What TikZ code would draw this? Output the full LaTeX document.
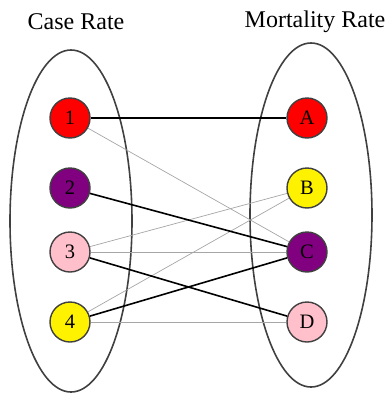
\documentclass[tikz,border=0pt]{standalone}
\usepackage{fontspec}
\setmainfont{Liberation Serif}
\definecolor{bord}{HTML}{404040}
\definecolor{pinkc}{HTML}{FFC0CB}
\definecolor{purp}{HTML}{800080}
\tikzset{
  vert/.style={circle, draw=bord, line width=1.4pt, minimum size=40pt, inner sep=0pt, font=\fontsize{20.5}{20.5}\selectfont},
  strong/.style={black, line width=1.6pt},
  weak/.style={black!35, line width=0.7pt},
  group/.style={draw=bord, line width=1.6pt},
  title/.style={font=\fontsize{24}{24}\selectfont}
}
\begin{document}
\begin{tikzpicture}[x=1pt,y=-1pt]
\useasboundingbox (0,0) rectangle (385,394);
\draw[group] (71,221) ellipse [x radius=61, y radius=171];
\draw[group] (311,215) ellipse [x radius=61, y radius=172];
\node[title] (t1) at (76,22) {Case Rate};
\node[title] (t2) at (315,22) {Mortality Rate};
\node[vert, fill=red] (n1) at (70,118) {1};
\node[vert, fill=purp] (n2) at (70,188) {2};
\node[vert, fill=pinkc] (n3) at (70,252) {3};
\node[vert, fill=yellow] (n4) at (70,322) {4};
\node[vert, fill=red] (nA) at (307,118) {A};
\node[vert, fill=yellow] (nB) at (307,188) {B};
\node[vert, fill=purp] (nC) at (307,252) {C};
\node[vert, fill=pinkc] (nD) at (307,322) {D};
\draw[weak] (n1) -- (nC);
\draw[weak] (n3) -- (nB);
\draw[weak] (n3) -- (nC);
\draw[weak] (n4) -- (nB);
\draw[weak] (n4) -- (nD);
\draw[strong] (n1) -- (nA);
\draw[strong] (n2) -- (nC);
\draw[strong] (n3) -- (nD);
\draw[strong] (n4) -- (nC);
\end{tikzpicture}
\end{document}
